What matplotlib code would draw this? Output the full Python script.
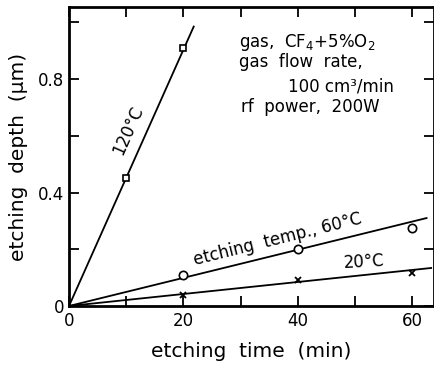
import matplotlib
matplotlib.use("Agg")
import matplotlib.pyplot as plt
import numpy as np
from matplotlib.ticker import MultipleLocator

plt.rcParams['font.family'] = ['DejaVu Sans']

# Data
t_120 = [10, 20]
d_120 = [0.451, 0.909]
t_60 = [20, 40, 60]
d_60 = [0.109, 0.200, 0.275]
t_20 = [20, 40, 60]
d_20 = [0.039, 0.092, 0.116]

# fitted lines: end points
fit_120_x = [0, 21.8]
fit_120_y = [0, 0.985]
fit_60_x = [0, 62.5]
fit_60_y = [0, 0.31]
fit_20_x = [0, 63.3]
fit_20_y = [0, 0.134]

fig = plt.figure(figsize=(4.35, 3.7), dpi=100)
ax = fig.add_axes([69/435, 1-306/370, 365/435, 299/370])

ax.plot(fit_120_x, fit_120_y, color='black', lw=1.3)
ax.plot(fit_60_x, fit_60_y, color='black', lw=1.3)
ax.plot(fit_20_x, fit_20_y, color='black', lw=1.3)

ax.plot(t_120, d_120, linestyle='none', marker='s', ms=5, mfc='white', mec='black', mew=1.2)
ax.plot(t_60, d_60, linestyle='none', marker='o', ms=6, mfc='white', mec='black', mew=1.2)
ax.plot(t_20, d_20, linestyle='none', marker='x', ms=4, color='black', mew=1.3)

ax.set_xlim(0, 63.8)
ax.set_ylim(0, 1.054)
ax.xaxis.set_major_locator(MultipleLocator(20))
ax.xaxis.set_minor_locator(MultipleLocator(10))
ax.yaxis.set_major_locator(MultipleLocator(0.4))
ax.yaxis.set_minor_locator(MultipleLocator(0.2))
ax.set_xticks([0, 20, 40, 60])
ax.set_xticklabels(['0', '20', '40', '60'])
ax.set_yticks([0, 0.4, 0.8])
ax.set_yticklabels(['0', '0.4', '0.8'])

ax.tick_params(which='both', direction='in', top=True, right=True, length=7, width=1.3, labelsize=12)
ax.tick_params(axis='x', pad=4)
for s in ax.spines.values():
    s.set_linewidth(2)

ax.set_xlabel('etching  time  (min)', fontsize=14.5, labelpad=9)
ax.set_ylabel('etching  depth  (μm)', fontsize=14.5, labelpad=7)

ax.text(10.3, 0.62, '120°C', rotation=66, fontsize=12, ha='center', va='center')
ax.text(36.5, 0.235, 'etching  temp., 60°C', rotation=14, fontsize=12, ha='center', va='center')
ax.text(51.5, 0.155, '20°C', rotation=3, fontsize=12, ha='center', va='center')

ax.text(29.7, 0.93, 'gas,  CF$_4$+5%O$_2$', fontsize=12, ha='left', va='center')
ax.text(29.7, 0.86, 'gas  flow  rate,', fontsize=12, ha='left', va='center')
ax.text(56.7, 0.772, '100 cm³/min', fontsize=12, ha='right', va='center')
ax.text(30.0, 0.70, 'rf  power,  200W', fontsize=12, ha='left', va='center')

fig.savefig('out.png', dpi=100)
